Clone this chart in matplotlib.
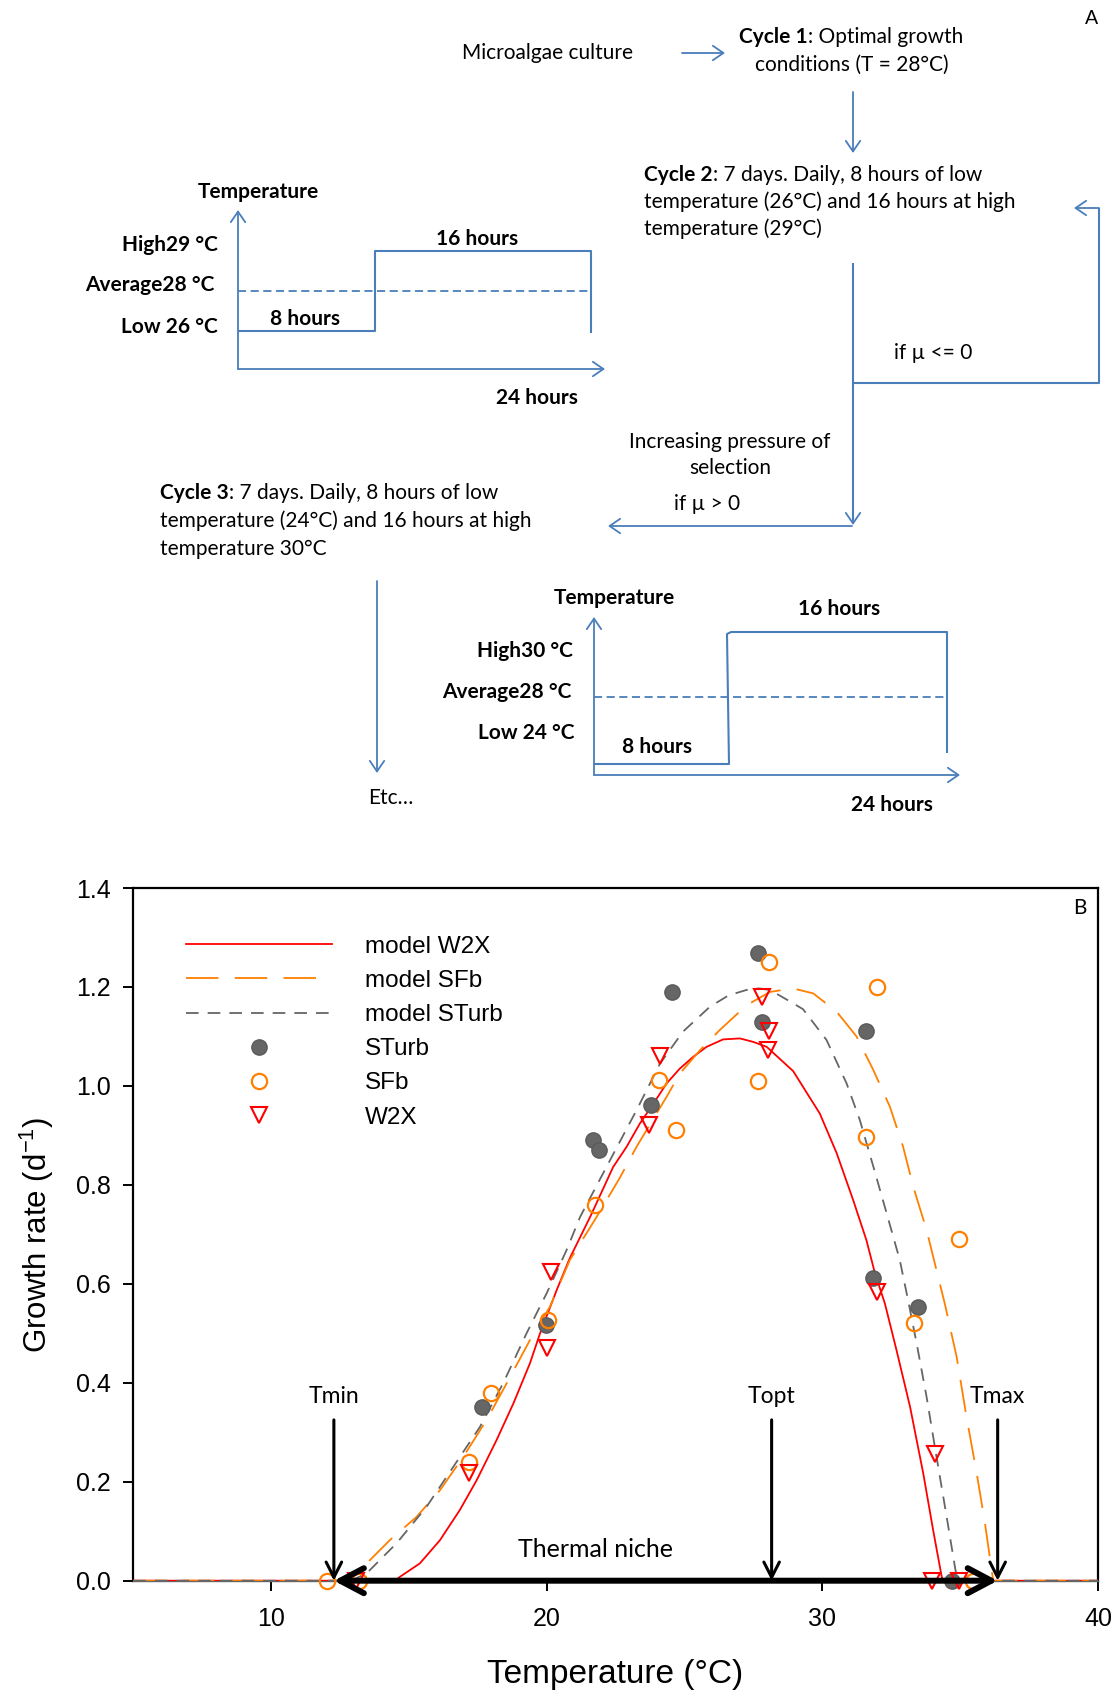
import matplotlib
matplotlib.use("Agg")
import matplotlib.pyplot as plt
from matplotlib.lines import Line2D

# ---- panel B data ----
w2x_curve_x = [5, 14.5, 14.68, 15.4, 16.13, 16.85, 17.46, 18.18, 18.79, 19.39, 19.76, 20.36,
               20.84, 21.6, 22.41, 22.9, 23.38, 23.87, 24.35, 24.83, 25.32, 25.8, 26.4,
               27.01, 27.49, 27.98, 28.94, 29.91, 30.52, 31.12, 31.6, 31.91, 32.27, 32.69,
               33.18, 33.66, 34.02, 34.33, 34.38, 40]
w2x_curve_y = [0, 0, 0.008, 0.035, 0.082, 0.143, 0.203, 0.284, 0.358, 0.439, 0.5, 0.587,
               0.652, 0.738, 0.836, 0.877, 0.924, 0.964, 1.005, 1.035, 1.059, 1.079, 1.094,
               1.096, 1.089, 1.079, 1.03, 0.944, 0.864, 0.769, 0.688, 0.621, 0.56, 0.466,
               0.352, 0.217, 0.102, 0.008, 0, 0]

sturb_curve_x = [5, 12.9, 13.47, 14.56, 15.65, 16.61, 17.58, 18.42, 19.27, 20.0, 20.72,
                 21.21, 22.29, 23.26, 24.11, 24.95, 25.92, 26.6, 27.25, 27.7, 28.1, 28.94,
                 29.3, 30.15, 30.88, 31.36, 31.85, 32.33, 32.81, 33.11, 33.42, 33.78, 34.14,
                 34.51, 34.81, 34.9, 40]
sturb_curve_y = [0, 0, 0.015, 0.076, 0.15, 0.23, 0.311, 0.399, 0.5, 0.581, 0.668,
                 0.735, 0.849, 0.951, 1.045, 1.11, 1.16, 1.183, 1.194, 1.197, 1.194, 1.167,
                 1.155, 1.093, 1.005, 0.931, 0.837, 0.743, 0.648, 0.567, 0.48, 0.372, 0.251,
                 0.129, 0.028, 0, 0]

sfb_curve_x = [5, 12.8, 13.47, 14.31, 15.28, 16.13, 16.97, 17.82, 18.55, 19.39, 20.12,
               20.84, 21.81, 22.66, 23.26, 24.35, 24.83, 25.56, 26.28, 27.25, 28.1, 28.94,
               29.67, 30.52, 31.24, 31.85, 32.45, 32.93, 33.3, 33.78, 34.14, 34.45, 34.87,
               35.23, 35.6, 35.9, 36.14, 36.2, 40]
sfb_curve_y = [0, 0, 0.035, 0.082, 0.129, 0.183, 0.25, 0.325, 0.399, 0.486, 0.554,
               0.648, 0.735, 0.815, 0.877, 0.978, 1.025, 1.072, 1.113, 1.163, 1.19, 1.197,
               1.187, 1.15, 1.1, 1.032, 0.958, 0.877, 0.796, 0.709, 0.628, 0.558, 0.453,
               0.331, 0.217, 0.116, 0.022, 0, 0]

sturb_x = [17.64, 19.97, 21.67, 21.9, 23.77, 24.55, 27.67, 27.8, 31.57, 31.85, 33.48, 34.72]
sturb_y = [0.352, 0.517, 0.89, 0.87, 0.961, 1.189, 1.268, 1.13, 1.111, 0.612, 0.554, 0.0]

sfb_x = [12.02, 13.2, 17.18, 17.98, 20.06, 21.75, 24.08, 24.68, 27.65, 28.06, 31.97,
         31.57, 33.32, 34.96, 35.45]
sfb_y = [0.0, 0.0, 0.24, 0.379, 0.527, 0.759, 1.012, 0.911, 1.01, 1.251, 1.2,
         0.897, 0.52, 0.69, 0.0]

w2x_x = [13.1, 17.18, 20.0, 20.15, 23.71, 24.1, 27.8, 28.07, 28.04, 31.97, 34.08, 33.96, 34.95]
w2x_y = [0.0, 0.218, 0.47, 0.624, 0.922, 1.06, 1.18, 1.11, 1.072, 0.584, 0.257, 0.0, 0.0]

t_min, t_opt, t_max = 12.28, 28.16, 36.36
x_ticks = [10, 20, 30, 40]
y_ticks = [0.0, 0.2, 0.4, 0.6, 0.8, 1.0, 1.2, 1.4]

RED = "#ff0000"
ORANGE = "#ff8000"
GRAY = "#666666"
BLUE = "#4a7ebb"
CAL = "Lato"
ARIAL = "Liberation Sans"

fig = plt.figure(figsize=(11.19, 16.97), dpi=100)

# ---------------- panel A : flow diagram drawn in pixel coordinates ----------------
axA = fig.add_axes([0, 0, 1, 1])
axA.set_xlim(0, 1119)
axA.set_ylim(1697, 0)
axA.axis("off")


def arrow(p0, p1, lw=1.3):
    axA.annotate("", xy=p1, xytext=p0,
                 arrowprops=dict(arrowstyle="->,head_length=0.38,head_width=0.26",
                                 color=BLUE, lw=lw, shrinkA=0, shrinkB=0,
                                 mutation_scale=20))


def poly(xs, ys, lw=1.5, ls="-"):
    axA.plot(xs, ys, color=BLUE, lw=lw, ls=ls, solid_capstyle="butt")


def txt(x, y, s, ha="center", bold=False, size=15):
    return axA.text(x, y, s, ha=ha, va="center", fontsize=size, family=CAL,
                    fontweight="bold" if bold else "normal", color="black")


def mixed(x, y, bold_part, rest, size=15):
    t = txt(x, y, bold_part, ha="left", bold=True, size=size)
    axA.annotate(rest, xy=(1, 0.5), xycoords=t, ha="left", va="center",
                 fontsize=size, family=CAL, color="black")


txt(1092, 18, "A", size=14)
txt(548, 53, "Microalgae culture")
arrow((682, 53), (725, 53))
mixed(739, 37, "Cycle 1", ": Optimal growth")
txt(852, 65, "conditions (T = 28°C)")
arrow((853, 92), (853, 153))

mixed(644, 175, "Cycle 2", ": 7 days. Daily, 8 hours of low")
txt(644, 202, "temperature (26°C) and 16 hours at high", ha="left")
txt(644, 229, "temperature (29°C)", ha="left")

# feedback loop
poly([853, 853], [263, 520])
arrow((853, 480), (853, 525))
poly([853, 1099, 1099], [383, 383, 208])
arrow((1099, 208), (1074, 208))
txt(933, 353, "if µ <= 0")
txt(730, 442, "Increasing pressure of")
txt(730, 468, "selection")
txt(707, 504, "if µ > 0")
arrow((852, 526), (608, 526))

mixed(160, 493, "Cycle 3", ": 7 days. Daily, 8 hours of low")
txt(160, 521, "temperature (24°C) and 16 hours at high", ha="left")
txt(160, 549, "temperature 30°C", ha="left")
arrow((377, 581), (377, 773))
txt(368, 798, "Etc…", ha="left")

# schematic 1 (cycle 2)
arrow((238, 369), (238, 210))
arrow((238, 369), (605, 369))
poly([238, 375, 375, 591, 591], [331, 331, 251, 251, 333])
axA.plot([238, 591], [291, 291], color=BLUE, lw=1.3, dashes=(4.5, 2.5))
txt(258, 192, "Temperature", bold=True)
txt(218, 245, "High29 °C", ha="right", bold=True)
txt(214, 285, "Average28 °C", ha="right", bold=True)
txt(218, 327, "Low 26 °C", ha="right", bold=True)
txt(477, 239, "16 hours", bold=True)
txt(305, 319, "8 hours", bold=True)
txt(537, 398, "24 hours", bold=True)

# schematic 2 (cycle 3)
arrow((594, 775), (594, 617))
arrow((594, 775), (960, 775))
poly([594, 729, 727, 731, 947, 947], [764, 764, 634, 632, 632, 753])
axA.plot([594, 947], [697, 697], color=BLUE, lw=1.3, dashes=(4.5, 2.5))
txt(614, 598, "Temperature", bold=True)
txt(573, 651, "High30 °C", ha="right", bold=True)
txt(571, 692, "Average28 °C", ha="right", bold=True)
txt(575, 733, "Low 24 °C", ha="right", bold=True)
txt(839, 609, "16 hours", bold=True)
txt(657, 747, "8 hours", bold=True)
txt(892, 805, "24 hours", bold=True)

# ---------------- panel B : growth rate vs temperature ----------------
ax = fig.add_axes([133.2 / 1119, 1 - 1580.7 / 1697, 964.8 / 1119, 692.7 / 1697])
ax.set_xlim(5, 40)
ax.set_ylim(0, 1.4)

ax.plot(w2x_curve_x, w2x_curve_y, color=RED, lw=1.3, zorder=3)
ax.plot(sfb_curve_x, sfb_curve_y, color=ORANGE, lw=1.3, dashes=(18, 9), zorder=3)
ax.plot(sturb_curve_x, sturb_curve_y, color=GRAY, lw=1.3, dashes=(7, 5), zorder=3)

ax.plot(sturb_x, sturb_y, ls="none", marker="o", ms=11, mfc=GRAY, mec="#5a5a5a",
        mew=1, zorder=4, clip_on=False)
ax.plot(sfb_x, sfb_y, ls="none", marker="o", ms=11, mfc="none", mec=ORANGE,
        mew=1.6, zorder=4, clip_on=False)
ax.plot(w2x_x, w2x_y, ls="none", marker="v", ms=11, mfc="none", mec=RED,
        mew=1.5, zorder=4, clip_on=False)

# thermal niche and cardinal temperatures
ax.annotate("", xy=(t_max, 0), xytext=(t_min, 0),
            arrowprops=dict(arrowstyle="<->,head_length=0.85,head_width=0.45",
                            color="black", lw=4.3, shrinkA=0, shrinkB=0,
                            mutation_scale=20), zorder=5)
for tx, lab in [(t_min, "Tmin"), (t_opt, "Topt"), (t_max, "Tmax")]:
    ax.annotate("", xy=(tx, 0.0), xytext=(tx, 0.325),
                arrowprops=dict(arrowstyle="->,head_length=0.55,head_width=0.28",
                                color="black", lw=2.2, shrinkA=0, shrinkB=0,
                                mutation_scale=20), zorder=5)
    ax.text(tx, 0.372, lab, ha="center", va="center", fontsize=16.5, family=CAL)
ax.text(21.77, 0.063, "Thermal niche", ha="center", va="center", fontsize=18, family=CAL)
ax.text(0.981, 0.971, "B", transform=ax.transAxes, ha="center", va="center",
        fontsize=15, family=CAL)

for s in ["left", "right", "top"]:
    ax.spines[s].set_linewidth(1.6)
ax.spines["bottom"].set_color(GRAY)
ax.spines["bottom"].set_linewidth(1.0)
ax.set_xticks(x_ticks)
ax.set_yticks(y_ticks)
ax.set_yticklabels([f"{v:.1f}" for v in y_ticks])
ax.tick_params(direction="out", length=7, width=1.4, labelsize=18, pad=9,
               labelfontfamily=ARIAL)
ax.tick_params(axis="x", pad=12)
ax.set_xlabel("Temperature (°C)", fontsize=24, family=ARIAL)
ax.set_ylabel(r"Growth rate (d$\mathregular{^{-1}}$)", fontsize=22.5, family=ARIAL)
ax.xaxis.set_label_coords(0.5, -0.113)
ax.yaxis.set_label_coords(-0.080, 0.5)

handles = [
    Line2D([], [], color=RED, lw=1.3),
    Line2D([], [], color=ORANGE, lw=1.3, dashes=(18, 9)),
    Line2D([], [], color=GRAY, lw=1.3, dashes=(7, 5)),
    Line2D([], [], ls="none", marker="o", ms=11, mfc=GRAY, mec="#5a5a5a"),
    Line2D([], [], ls="none", marker="o", ms=11, mfc="none", mec=ORANGE, mew=1.6),
    Line2D([], [], ls="none", marker="v", ms=11, mfc="none", mec=RED, mew=1.5),
]
labels = ["model W2X", "model SFb", "model STurb", "STurb", "SFb", "W2X"]
ax.legend(handles, labels, loc="upper left", bbox_to_anchor=(0.0547, 0.931),
          frameon=False, borderpad=0, borderaxespad=0, handlelength=6.0,
          handletextpad=1.38, labelspacing=0.5,
          prop={"family": ARIAL, "size": 17.5})

fig.savefig("out.png", dpi=100)
